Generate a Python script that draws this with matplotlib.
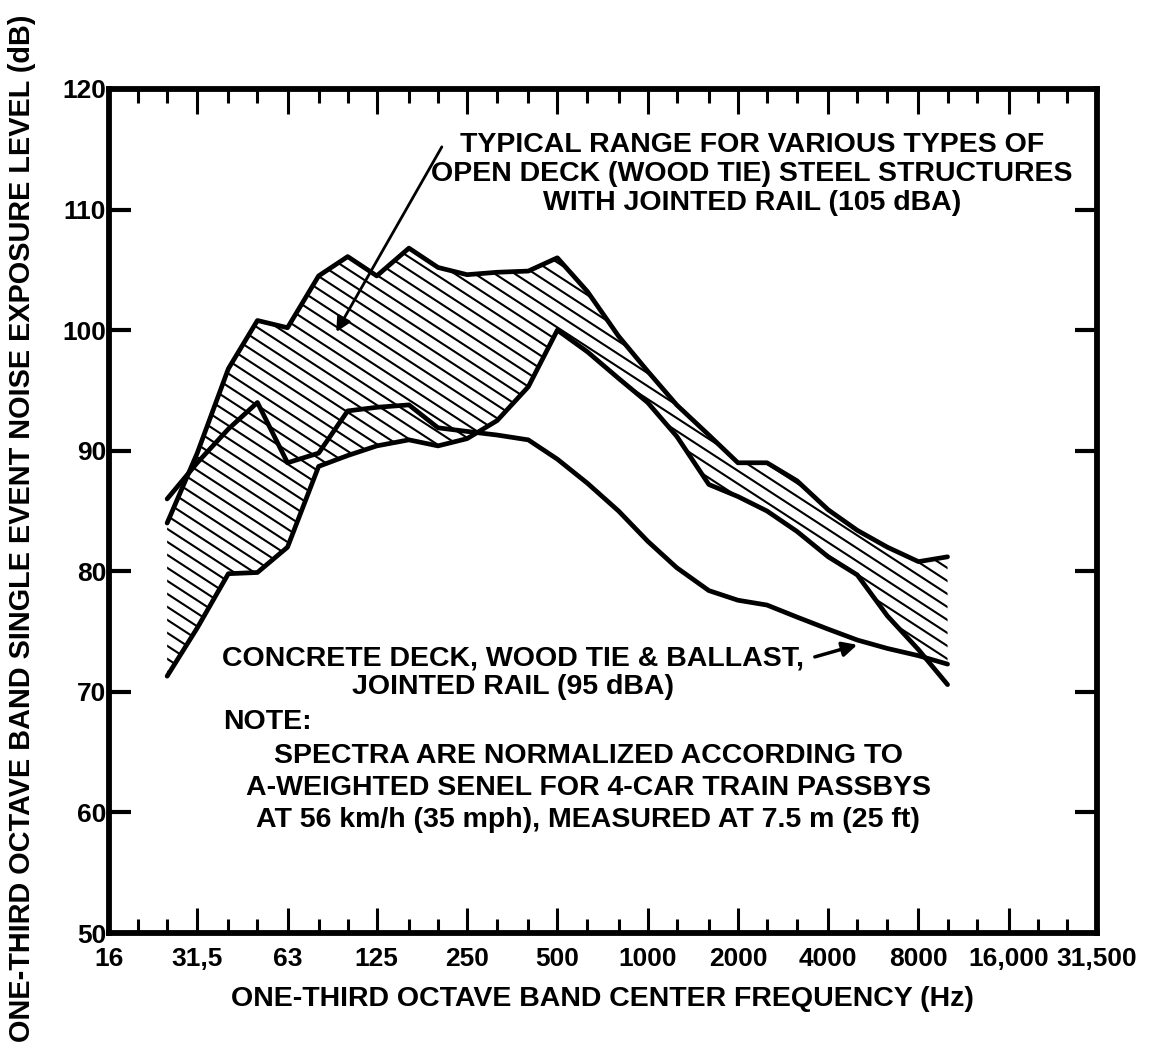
# Railway bridge noise spectra: open deck steel structures vs concrete deck
import numpy as np
import matplotlib.pyplot as plt
from matplotlib.collections import LineCollection
from matplotlib.ticker import FixedLocator, FixedFormatter, NullFormatter, NullLocator

plt.rcParams['font.family'] = ['Liberation Sans', 'DejaVu Sans']
plt.rcParams['font.weight'] = 'bold'

# one-third octave band centre frequencies (Hz)
freq = [25, 31.5, 40, 50, 63, 80, 100, 125, 160, 200, 250, 315, 400, 500,
        630, 800, 1000, 1250, 1600, 2000, 2500, 3150, 4000, 5000, 6300, 8000, 10000]

# upper edge of the hatched range (open deck steel structures)
open_deck_max = [84.0, 89.8, 96.8, 100.8, 100.2, 104.5, 106.1, 104.5, 106.8, 105.2,
                 104.6, 104.8, 104.9, 106.0, 103.2, 99.5, 96.6, 93.8, 91.3, 89.0,
                 89.0, 87.5, 85.1, 83.4, 82.0, 80.8, 81.2]

# lower edge of the hatched range
open_deck_min = [71.3, 75.3, 79.8, 79.9, 82.0, 88.7, 89.6, 90.4, 90.9, 90.4,
                 91.0, 92.5, 95.3, 100.0, 98.2, 96.0, 94.0, 91.2, 87.2, 86.2,
                 85.0, 83.3, 81.2, 79.7, 76.3, 73.5, 70.6]

# concrete deck, wood tie & ballast, jointed rail (95 dBA)
concrete_deck = [86.0, 89.0, 91.8, 94.0, 89.0, 89.8, 93.3, 93.6, 93.8, 91.9,
                 91.6, 91.3, 90.9, 89.3, 87.3, 85.0, 82.5, 80.3, 78.4, 77.6,
                 77.2, 76.2, 75.2, 74.3, 73.6, 73.0, 72.3]

octave_ticks = [16, 31.5, 63, 125, 250, 500, 1000, 2000, 4000, 8000, 16000, 31500]
octave_labels = ['16', '31,5', '63', '125', '250', '500', '1000', '2000', '4000',
                 '8000', '16,000', '31,500']
third_ticks = [20, 25, 40, 50, 80, 100, 160, 200, 315, 400, 630, 800, 1250, 1600,
               2500, 3150, 5000, 6300, 10000, 12500, 20000, 25000]
level_ticks = [50, 60, 70, 80, 90, 100, 110, 120]

W, H = 1165, 1049
FS = 20.5


def px(x, y):
    return x / W, 1 - y / H


fig = plt.figure(figsize=(W / 100, H / 100), dpi=100)
ax = fig.add_axes([109 / W, 1 - 933 / H, 988 / W, 844 / H])
ax.set_xscale('log')
ax.set_xlim(16, 31500)
ax.set_ylim(50, 120)

f = np.array(freq)
hi = np.array(open_deck_max)
lo = np.array(open_deck_min)
cd = np.array(concrete_deck)

# hatched range (at the top end the hatching stops on the concrete curve)
hatch_lo = np.where(f >= 5000, np.maximum(lo, cd), lo)
band = ax.fill_between(f, hatch_lo, hi, facecolor='none', edgecolor='none')

# hatch lines, drawn in axes fraction and clipped to the band
ax_w, ax_h = 988, 844
slope = 0.65
segs = []
for c in np.arange(0, ax_h + slope * ax_w + 13, 13.0):
    segs.append([(0, c / ax_h), (1, (c - slope * ax_w) / ax_h)])
hatch = LineCollection(segs, colors='black', linewidths=1.5, transform=ax.transAxes)
ax.add_collection(hatch)
hatch.set_clip_path(band.get_paths()[0], ax.transData)

line_kw = dict(color='black', lw=3.4, solid_joinstyle='round', solid_capstyle='round')
ax.plot(f, hi, **line_kw)
ax.plot(f, lo, **line_kw)
ax.plot(f, cd, **line_kw)

# axes and ticks
ax.xaxis.set_major_locator(FixedLocator(octave_ticks))
ax.xaxis.set_major_formatter(FixedFormatter(octave_labels))
ax.xaxis.set_minor_locator(FixedLocator(third_ticks))
ax.xaxis.set_minor_formatter(NullFormatter())
ax.yaxis.set_major_locator(FixedLocator(level_ticks))
ax.yaxis.set_minor_locator(NullLocator())
ax.tick_params(axis='x', which='major', direction='in', length=18, width=2.2,
               top=True, bottom=True, labelsize=19, pad=10)
ax.tick_params(axis='x', which='minor', direction='in', length=10, width=2.2,
               top=True, bottom=True)
ax.tick_params(axis='y', which='major', direction='in', length=16, width=3,
               left=True, right=True, labelsize=19, pad=2)
for s in ax.spines.values():
    s.set_linewidth(4.2)

# annotations
ax.annotate('', xy=(91.6, 99.85), xytext=(206, 115.2),
            arrowprops=dict(arrowstyle='-|>', color='black', lw=2, mutation_scale=22,
                            shrinkA=0, shrinkB=0))
ax.annotate('', xy=(5000, 73.9), xytext=(3610, 72.9),
            arrowprops=dict(arrowstyle='-|>', color='black', lw=2.5, mutation_scale=22,
                            shrinkA=0, shrinkB=0))

fig.text(*px(752, 174), 'TYPICAL RANGE FOR VARIOUS TYPES OF\n'
         'OPEN DECK (WOOD TIE) STEEL STRUCTURES\nWITH JOINTED RAIL (105 dBA)',
         ha='center', va='center', fontsize=FS, linespacing=1.13)
fig.text(*px(513, 673), 'CONCRETE DECK, WOOD TIE & BALLAST,\nJOINTED RAIL (95 dBA)',
         ha='center', va='center', fontsize=FS, linespacing=1.13)
fig.text(*px(223, 722), 'NOTE:', ha='left', va='center', fontsize=FS)
fig.text(*px(588, 788), 'SPECTRA ARE NORMALIZED ACCORDING TO\n'
         'A-WEIGHTED SENEL FOR 4-CAR TRAIN PASSBYS\n'
         'AT 56 km/h (35 mph), MEASURED AT 7.5 m (25 ft)',
         ha='center', va='center', fontsize=FS, linespacing=1.3)

fig.text(*px(602, 999), 'ONE-THIRD OCTAVE BAND CENTER FREQUENCY (Hz)',
         ha='center', va='center', fontsize=FS)
fig.text(*px(22, 528), 'ONE-THIRD OCTAVE BAND SINGLE EVENT NOISE EXPOSURE LEVEL (dB)',
         ha='center', va='center', rotation=90, fontsize=FS + 0.3)

fig.savefig('out.png', dpi=100)
